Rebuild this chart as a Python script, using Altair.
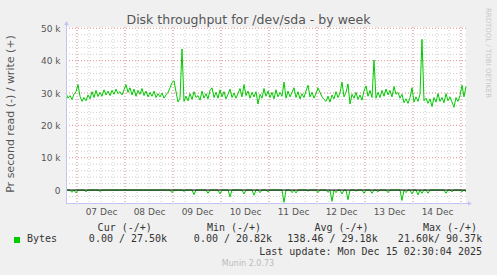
import json
import altair as alt
import pandas as pd

# hours since 06 Dec 18:30 (one sample per hour)
write_k = [
    30.0, 28.4, 29.2, 28.0, 29.6, 30.4, 32.6, 29.0, 27.4, 28.6,
    27.6, 29.4, 28.2, 30.4, 28.6, 30.8, 28.9, 30.2, 29.0, 31.0,
    29.4, 30.6, 29.2, 30.8, 29.6, 31.2, 29.8, 30.4, 29.4, 31.0,
    32.6, 30.2, 31.6, 29.4, 31.2, 29.0, 30.8, 29.6, 31.4, 29.2,
    30.6, 28.8, 30.2, 29.0, 30.6, 28.6, 29.8, 28.8, 30.0, 28.4,
    29.4, 30.2, 31.6, 33.2, 33.8, 30.4, 27.2, 28.4, 43.6, 27.4,
    29.0, 27.6, 29.8, 28.0, 30.4, 28.6, 29.2, 27.8, 30.6, 28.4,
    29.8, 28.2, 30.8, 31.6, 28.6, 30.2, 28.4, 31.0, 28.8, 30.4,
    28.2, 29.6, 31.2, 28.6, 30.0, 28.4, 29.8, 31.4, 28.8, 32.6,
    29.2, 30.6, 28.4, 30.2, 28.8, 30.4, 26.6, 29.6, 28.4, 31.4,
    29.0, 30.6, 28.6, 30.2, 28.2, 31.0, 28.8, 30.2, 29.0, 33.4,
    28.4, 30.6, 28.8, 30.2, 31.6, 28.6, 30.4, 28.2, 29.8, 28.6,
    30.6, 32.4, 28.8, 30.2, 28.4, 29.8, 31.6, 30.2, 28.8, 28.0,
    27.4, 29.0, 27.2, 29.4, 28.2, 30.4, 28.6, 30.0, 33.4, 28.8,
    30.2, 32.8, 26.6, 29.6, 28.4, 30.2, 28.0, 29.4, 27.8, 30.6,
    32.2, 29.0, 30.8, 28.6, 40.2, 28.4, 30.2, 28.6, 30.8, 29.0,
    31.2, 29.4, 30.8, 28.8, 32.0, 29.6, 30.2, 28.4, 29.6, 27.0,
    28.2, 26.8, 28.6, 31.6, 27.2, 28.8, 27.4, 29.6, 46.6, 27.6,
    28.4, 26.8, 28.2, 25.8, 28.6, 27.2, 29.8, 27.4, 28.6, 27.0,
    29.8, 27.6, 28.8, 27.2, 25.6, 28.6, 27.4, 29.2, 32.4, 28.8,
    32.0,
]
read_k = [
    0, 0, 0, -0.7, 0, -0.9, 0, 0, 0, 0,
    -0.5, 0, 0, 0, 0, 0, 0, -0.4, 0, 0,
    0, 0, 0, 0, 0, 0, 0, 0, 0, 0,
    0, 0, 0, 0, 0, 0, 0, 0, 0, 0,
    0, 0, 0, 0, 0, 0, 0, 0, 0, 0,
    0, 0, 0, -0.8, 0, 0, 0, 0, 0, -0.4,
    0, 0, 0, 0, -1.4, 0, 0, 0, 0, 0,
    0, -1.0, 0, 0, 0, 0, 0, -1.2, 0, 0,
    0, 0, -2.1, 0, 0, 0, 0, 0, 0, -1.2,
    0, 0, 0, 0, -1.6, 0, 0, -0.8, 0, 0,
    0, -0.5, 0, 0, 0, 0, 0, 0, 0, -3.8,
    0, 0, 0, -0.8, 0, -0.9, 0, 0, 0, 0,
    0, -0.3, 0, 0, 0, 0, -0.8, 0, 0, 0,
    0, -0.7, 0, -3.5, 0, -0.8, 0, 0, -1.2, 0,
    0, -3.0, 0, 0, 0, -0.3, 0, 0, 0, -1.0,
    0, 0, 0, -1.0, 0, 0, -0.5, 0, 0, 0,
    0, -0.8, 0, 0, 0, 0, 0, 0, -3.2, 0,
    -0.8, 0, 0, -1.2, 0, 0, -1.5, 0, -1.0, 0,
    0, -1.0, 0, 0, 0, 0, 0, 0, 0, 0,
    -1.0, 0, 0, -0.5, 0, 0, 0, 0, -0.5, 0,
    -0.5,
]
day_labels = ["07 Dec", "08 Dec", "09 Dec", "10 Dec", "11 Dec", "12 Dec", "13 Dec", "14 Dec"]
label_hours = [17.5, 41.5, 65.5, 89.5, 113.5, 137.5, 161.5, 185.5]
major_x_hours = [5.5, 29.5, 53.5, 77.5, 101.5, 125.5, 149.5, 173.5, 197.5]
minor_x_hours = [5.5 + 6 * m for m in range(33)]
y_ticks = [0, 10000, 20000, 30000, 40000, 50000]
minor_y = list(range(-2000, 50001, 2000))

df = pd.DataFrame({
    "hour": list(range(len(write_k))),
    "write": [v * 1000 for v in write_k],
    "read": [v * 1000 for v in read_k],
})
one = pd.DataFrame({"a": [0]})

W, H = 400, 176
xscale = alt.Scale(domain=[0, 200], nice=False, zero=False)
yscale = alt.Scale(domain=[-4000, 50400], nice=False, zero=False)

xaxis = alt.Axis(
    values=label_hours,
    labelExpr=json.dumps(day_labels) + "[round((datum.value - 17.5) / 24)]",
    tickSize=0, grid=False, domain=False, title=None,
    labelFont="DejaVu Sans", labelFontSize=9, labelColor="#555555",
    labelPadding=4, labelFlush=False, labelOverlap=False,
)
yaxis = alt.Axis(
    values=y_ticks,
    labelExpr="datum.value == 0 ? '0' : (datum.value / 1000) + ' k'",
    tickSize=0, grid=False, domain=False, title=None,
    labelFont="DejaVu Sans", labelFontSize=9, labelColor="#555555",
    labelPadding=6,
)

GREEN = "#00cc00"
AXC = "#c4c4f4"

minor_v = alt.Chart(pd.DataFrame({"hour": minor_x_hours})).mark_rule(
    color="#cfcfcf", strokeDash=[1, 2], strokeWidth=1
).encode(x=alt.X("hour:Q", scale=xscale, axis=xaxis))
major_v = alt.Chart(pd.DataFrame({"hour": major_x_hours})).mark_rule(
    color="#f09a9a", strokeDash=[1, 2], strokeWidth=1
).encode(x=alt.X("hour:Q", scale=xscale, axis=xaxis))
minor_h = alt.Chart(pd.DataFrame({"v": minor_y})).mark_rule(
    color="#cfcfcf", strokeDash=[1, 2], strokeWidth=1
).encode(y=alt.Y("v:Q", scale=yscale, axis=yaxis))
major_h = alt.Chart(pd.DataFrame({"v": y_ticks[1:]})).mark_rule(
    color="#f09a9a", strokeDash=[1, 2], strokeWidth=1
).encode(y=alt.Y("v:Q", scale=yscale, axis=yaxis))

write_line = alt.Chart(df).mark_line(color=GREEN, strokeWidth=1).encode(
    x=alt.X("hour:Q", scale=xscale, axis=xaxis),
    y=alt.Y("write:Q", scale=yscale, axis=yaxis),
)
read_line = alt.Chart(df).mark_line(color=GREEN, strokeWidth=1).encode(
    x=alt.X("hour:Q", scale=xscale, axis=xaxis),
    y=alt.Y("read:Q", scale=yscale, axis=yaxis),
)
zero_line = alt.Chart(pd.DataFrame({"v": [0]})).mark_rule(
    color="#000000", strokeWidth=1
).encode(y=alt.Y("v:Q", scale=yscale, axis=yaxis))

left_axis = alt.Chart(one).mark_rule(color=AXC, strokeWidth=1).encode(
    x=alt.value(0.5), y=alt.value(-4), y2=alt.value(H)
)
bottom_axis = alt.Chart(one).mark_rule(color=AXC, strokeWidth=1).encode(
    x=alt.value(0), x2=alt.value(403), y=alt.value(H + 0.5)
)
up_arrow = alt.Chart(one).mark_point(
    shape="triangle-up", filled=True, color=AXC, size=22, opacity=1
).encode(x=alt.value(0.5), y=alt.value(-4))
right_arrow = alt.Chart(one).mark_point(
    shape="triangle-right", filled=True, color=AXC, size=22, opacity=1
).encode(x=alt.value(404), y=alt.value(H + 0.5))


def txt(s, x, y, size, font="DejaVu Sans Mono", color="#333333", align="center", angle=0):
    return alt.Chart(one).mark_text(
        text=s, font=font, fontSize=size, color=color, align=align,
        baseline="middle", angle=angle,
    ).encode(x=alt.value(x), y=alt.value(y))


texts = [
    txt("Disk throughput for /dev/sda - by week", 182.5, -7, 12.5, font="DejaVu Sans", color="#555555"),
    txt("Pr second read (-) / write (+)", -55, 87, 11, font="DejaVu Sans", color="#555555", angle=270),
    txt("RRDTOOL / TOBI OETIKER", 422, 26, 7, font="DejaVu Sans", color="#c8c8c8", angle=90),
    txt("Cur (-/+)", 58.7, 200.5, 10),
    txt("0.00 / 27.50k", 62, 212.3, 10),
    txt("Bytes", -39, 212.3, 10, align="left"),
    txt("Min (-/+)", 168, 200.5, 10),
    txt("0.00 / 20.82k", 167, 212.3, 10),
    txt("Avg (-/+)", 275.5, 200.5, 10),
    txt("138.46 / 29.18k", 266.5, 212.3, 10),
    txt("Max (-/+)", 384, 200.5, 10),
    txt("21.60k/ 90.37k", 374, 212.3, 10),
    txt("Last update: Mon Dec 15 02:30:04 2025", 416, 224.7, 10, align="right"),
    txt("Munin 2.0.73", 182, 237, 8, font="DejaVu Sans", color="#bbbbbb"),
]
swatch = alt.Chart(one).mark_rect(color=GREEN).encode(
    x=alt.value(-52), x2=alt.value(-46), y=alt.value(210), y2=alt.value(216)
)

chart = alt.layer(
    minor_v, minor_h, major_v, major_h, read_line, write_line, zero_line,
    left_axis, bottom_axis, up_arrow, right_arrow, swatch, *texts,
).properties(
    width=W, height=H,
    autosize=alt.AutoSizeParams(type="none"),
    padding={"left": 66, "top": 27, "right": 31, "bottom": 72},
    background="#f0f0f0",
).configure_view(fill="white", strokeWidth=0)

chart.save("out.html", embed_options={"renderer": "svg", "actions": False})
